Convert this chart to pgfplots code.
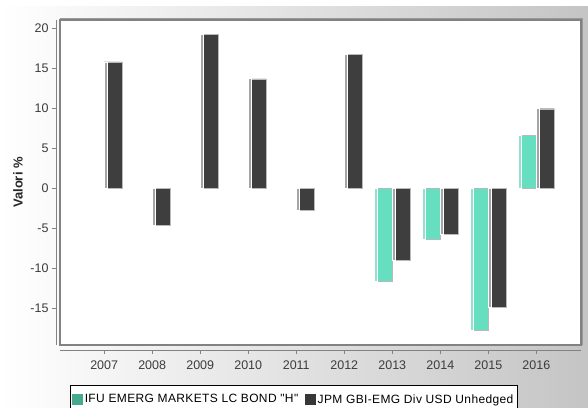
\documentclass[border=0pt]{standalone}
\usepackage{pgfplots}
\pgfplotsset{compat=1.18}
\usepackage{fontspec}
\setmainfont{Liberation Sans}
\newfontfamily\legfont[LetterSpace=3]{Liberation Sans}
\definecolor{axgray}{RGB}{130,130,130}
\definecolor{txt}{RGB}{60,60,60}
\definecolor{legteal}{RGB}{70,170,145}
\definecolor{legdark}{RGB}{55,55,55}
\definecolor{darkbar}{RGB}{62,62,62}
\definecolor{tealbar}{RGB}{102,222,192}
\definecolor{slD}{RGB}{165,165,165}
\definecolor{slT}{RGB}{150,225,205}
\pgfdeclarelayer{bg}
\pgfsetlayers{bg,main}
\begin{document}
\begin{tikzpicture}
\begin{axis}[
  scale only axis, width=521pt, height=325pt,
  xmin=-0.92, xmax=9.93, ymin=-19.6, ymax=21.05,
  axis x line*=bottom, axis y line*=left,
  axis x line shift=5pt, axis y line shift=4pt,
  axis line style={draw=axgray, line width=1pt, -},
  axis background/.style={fill=white},
  tick align=outside, major tick length=4pt,
  tick style={draw=axgray, line width=0.8pt},
  xtick={0,...,9},
  xticklabels={2007,2008,2009,2010,2011,2012,2013,2014,2015,2016},
  ytick={-15,-10,-5,0,5,10,15,20},
  /pgf/number format/assume math mode=true,
  tick label style={font=\fontsize{12.5}{12.5}\selectfont, text=txt},
  xticklabel style={yshift=-3pt},
  ylabel={\textbf{Valori \%}},
  ylabel style={at={(axis description cs:-0.0806,0.5)}, anchor=center, font=\fontsize{13}{13}\selectfont, text=black!85},
  ybar, bar width=18pt,
  legend columns=2,
  legend style={at={(axis description cs:0.0192,-0.123)}, anchor=north west,
    draw=black, line width=0.8pt, fill=white, font=\legfont\fontsize{12}{12}\selectfont,
    inner xsep=2pt, inner ysep=7pt, /tikz/every even column/.append style={column sep=5pt}},
  legend cell align=left,
  clip=false,
]
\addplot[bar shift=-9pt, fill=tealbar, draw=gray!55, line width=0.4pt,
  legend image code/.code={\fill[legteal] (0pt,-5pt) rectangle (10pt,5pt);}]
  coordinates {(6,-11.6) (7,-6.4) (8,-17.7) (9,6.6)};
\addlegendentry{IFU EMERG MARKETS LC BOND "H"}
\addplot[bar shift=9pt, fill=darkbar, draw=gray!55, line width=0.4pt,
  legend image code/.code={\fill[legdark] (0pt,-5pt) rectangle (10pt,5pt);}]
  coordinates {(0,15.8) (1,-4.6) (2,19.25) (3,13.7) (4,-2.8) (5,16.75) (6,-9.0) (7,-5.7) (8,-14.9) (9,9.95)};
\addlegendentry{JPM GBI-EMG Div USD Unhedged}
\addplot[bar shift=-16.5pt, bar width=3pt, fill=slT, draw=white, line width=0.6pt, forget plot]
  coordinates {(6,-11.6) (7,-6.4) (8,-17.7) (9,6.6)};
\addplot[bar shift=1.5pt, bar width=3pt, fill=slD, draw=white, line width=0.6pt, forget plot]
  coordinates {(0,15.8) (1,-4.6) (2,19.25) (3,13.7) (4,-2.8) (5,16.75) (6,-9.0) (7,-5.7) (8,-14.9) (9,9.95)};
\draw[axgray, line width=1.2pt] (rel axis cs:0,0) rectangle (rel axis cs:1,1);
\draw[black!40, line width=1pt] ([xshift=1.2pt]rel axis cs:1,0) -- ([xshift=1.2pt,yshift=1.2pt]rel axis cs:1,1) -- ([yshift=1.2pt]rel axis cs:0,1);
\coordinate (F) at (rel axis cs:0,0);
\end{axis}
\pgfresetboundingbox
\path[use as bounding box] ([shift={(-60pt,-62pt)}]F) rectangle ([shift={(528pt,345pt)}]F);
\begin{pgfonlayer}{bg}
\shade[left color=white, right color=black!23] ([shift={(-60pt,-62pt)}]F) rectangle ([shift={(528pt,338pt)}]F);
\end{pgfonlayer}
\end{tikzpicture}
\end{document}
